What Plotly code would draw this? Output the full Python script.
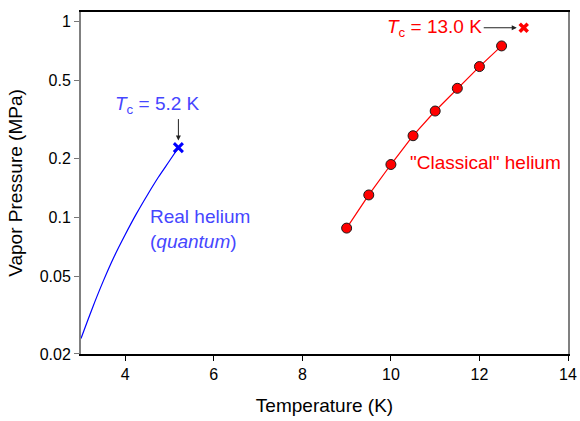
import math
import plotly.graph_objects as go

# Real helium (quantum) vapor pressure curve
real_T = [3.0, 3.25, 3.5, 3.75, 4.0, 4.25, 4.5, 4.75, 5.0, 5.2]
real_P = [0.0240, 0.0340, 0.0470, 0.0630, 0.0816, 0.1040, 0.1300, 0.1605, 0.1944, 0.2270]
real_Tc, real_Pc = 5.2, 0.227

# "Classical" helium
class_T = [9.0, 9.5, 10.0, 10.5, 11.0, 11.5, 12.0, 12.5]
class_P = [0.088, 0.130, 0.186, 0.261, 0.349, 0.456, 0.589, 0.751]
class_Tc, class_Pc = 13.0, 0.93

x_ticks = [4, 6, 8, 10, 12, 14]
y_ticks = [0.02, 0.05, 0.1, 0.2, 0.5, 1]
y_ticktext = ["0.02", "0.05", "0.1", "0.2", "0.5", "1"]

BLUE_TXT = "#4646FF"
FONT = "Liberation Sans"
L = math.log10  # annotation positions on a log axis are given in log10 units

fig = go.Figure()
fig.add_trace(go.Scatter(x=real_T, y=real_P, mode="lines", line=dict(color="#0000FF", width=1.2, shape="spline"),
                         showlegend=False, hoverinfo="skip"))
fig.add_trace(go.Scatter(x=[real_Tc], y=[real_Pc], mode="markers",
                         marker=dict(symbol="x-thin", size=9, line=dict(color="#0000FF", width=3)),
                         showlegend=False))
fig.add_trace(go.Scatter(x=class_T, y=class_P, mode="lines+markers",
                         line=dict(color="#FF0000", width=1.2),
                         marker=dict(symbol="circle", size=10, color="#FF0000", line=dict(color="#1a1a1a", width=1)),
                         showlegend=False))
fig.add_trace(go.Scatter(x=[class_Tc], y=[class_Pc], mode="markers",
                         marker=dict(symbol="x-thin", size=8, line=dict(color="#FF0000", width=3.5)),
                         showlegend=False))

# blue arrow (vertical, offset from its label)
fig.add_annotation(x=real_Tc, y=L(real_Pc), ax=0, ay=-30, text="", showarrow=True,
                   arrowhead=2, arrowsize=1, arrowwidth=1, arrowcolor="#222222", standoff=7)
fig.add_annotation(x=4.725, y=L(0.375), text="<i>T</i><sub>c</sub> = 5.2 K", showarrow=False,
                   font=dict(size=19, color=BLUE_TXT, family=FONT), xanchor="center", yanchor="middle")
# red label with its arrow
fig.add_annotation(x=class_Tc, y=L(class_Pc), ax=-89, ay=0, text="<i>T</i><sub>c</sub> = 13.0 K", showarrow=True,
                   arrowhead=2, arrowsize=1, arrowwidth=1, arrowcolor="#222222", standoff=7,
                   font=dict(size=19, color="#FF0000", family=FONT))
fig.add_annotation(x=4.52, y=L(0.0866), text="Real helium<br>(<i>quantum</i>)", showarrow=False,
                   font=dict(size=19, color=BLUE_TXT, family=FONT), xanchor="left", yanchor="middle", align="left")
fig.add_annotation(x=10.39, y=L(0.190), text="\"Classical\" helium", showarrow=False,
                   font=dict(size=19, color="#FF0000", family=FONT), xanchor="left", yanchor="middle")

fig.update_layout(
    width=580, height=421, autosize=False,
    margin=dict(l=81, r=12, t=12, b=67),
    paper_bgcolor="white", plot_bgcolor="white",
    font=dict(family=FONT, color="black"),
    xaxis=dict(range=[3, 14], tickvals=x_ticks, ticks="outside", ticklen=5, tickcolor="black", automargin=False,
               showline=True, linecolor="black", linewidth=1.5, mirror=True, showgrid=False, zeroline=False,
               tickfont=dict(size=16), title=dict(text="Temperature (K)", font=dict(size=19), standoff=17)),
    yaxis=dict(type="log", range=[-1.699, 0.049], tickvals=y_ticks, ticktext=y_ticktext, ticks="outside",
               ticklen=5, tickcolor="#777777", automargin=False,
               showline=True, linecolor="#808080", linewidth=2, mirror=True, showgrid=False, zeroline=False,
               tickfont=dict(size=16), title=dict(text="Vapor Pressure (MPa)", font=dict(size=19), standoff=12)),
)

fig.write_html("out.html", config={"displayModeBar": False, "responsive": False},
               post_script="document.body.style.margin='0';document.body.style.padding='0';"
                           "document.documentElement.style.overflow='hidden';")
